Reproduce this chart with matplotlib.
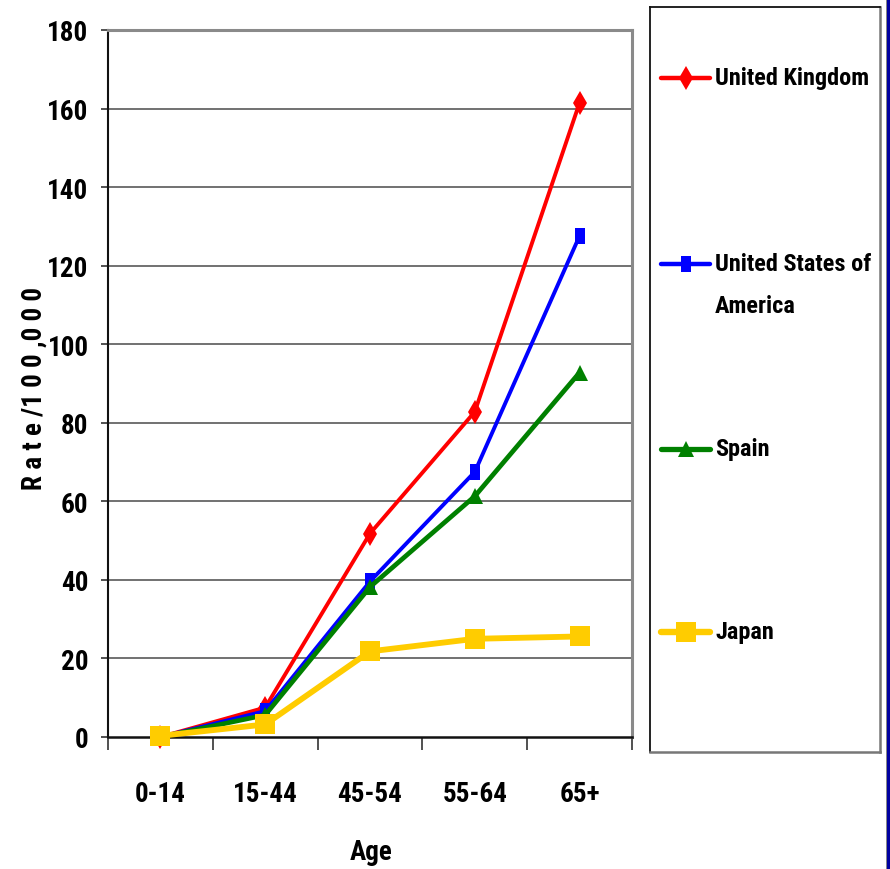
import matplotlib
matplotlib.use("Agg")
import matplotlib.pyplot as plt
from matplotlib import font_manager
from matplotlib.lines import Line2D
from matplotlib.patches import Rectangle
from matplotlib.path import Path

# --- data -------------------------------------------------------------
age_groups = ["0-14", "15-44", "45-54", "55-64", "65+"]
uk = [0.0, 7.5, 51.8, 82.8, 161.5]
usa = [0.0, 6.6, 39.6, 67.5, 127.6]
spain = [0.0, 5.6, 38.2, 61.3, 92.8]
japan = [0.3, 3.2, 21.8, 25.0, 25.6]
series_names = ["United Kingdom", "United States of\nAmerica", "Spain", "Japan"]
y_ticks = [0, 20, 40, 60, 80, 100, 120, 140, 160, 180]

# --- fonts: a narrow bold sans -----------------------------------------
bold_families = {f.name for f in font_manager.fontManager.ttflist if f.weight >= 700}
narrow = "Liberation Sans"
for cand in ["Liberation Sans Narrow", "Arial Narrow", "Roboto Condensed",
             "Open Sans Condensed", "PT Sans Narrow"]:
    if cand in bold_families:
        narrow = cand
        break
plt.rcParams["font.family"] = [narrow, "DejaVu Sans"]
plt.rcParams["font.weight"] = "bold"
FS = 19.5      # axis text
FS_LEG = 17.5  # legend text

W, H = 890, 870
fig = plt.figure(figsize=(W / 100, H / 100), dpi=100)
fig.patch.set_facecolor("white")


def px_box(x0, y0, x1, y1):
    return [x0 / W, 1 - y1 / H, (x1 - x0) / W, (y1 - y0) / H]


ax = fig.add_axes(px_box(108, 31, 632, 738))

# tall rectangular marker for the US series
tall_rect = Path([(-0.55, -1), (0.55, -1), (0.55, 1), (-0.55, 1), (-0.55, -1)],
                 [Path.MOVETO, Path.LINETO, Path.LINETO, Path.LINETO, Path.CLOSEPOLY])

styles = [
    dict(color="#FF0000", lw=2.8, marker="d", ms=12),
    dict(color="#0000FF", lw=2.8, marker=tall_rect, ms=12),
    dict(color="#008000", lw=3.4, marker="^", ms=11),
    dict(color="#FFCC00", lw=4.2, marker="s", ms=15),
]

xpos = [i + 0.5 for i in range(len(age_groups))]
for vals, st in zip([uk, usa, spain, japan], styles):
    ax.plot(xpos, vals, color=st["color"], lw=st["lw"], marker=st["marker"],
            ms=st["ms"], mfc=st["color"], mec=st["color"], mew=0,
            solid_joinstyle="round", clip_on=False, zorder=3)

ax.set_xlim(0, len(age_groups))
ax.set_ylim(0, 180)
ax.set_yticks(y_ticks)
ax.set_yticklabels([str(v) for v in y_ticks], fontsize=FS, fontweight="bold")
ax.set_xticks(range(len(age_groups) + 1))
ax.set_xticklabels([])
ax.set_xticks(xpos, minor=True)
ax.set_xticklabels(age_groups, minor=True, fontsize=FS, fontweight="bold")
ax.tick_params(axis="x", which="minor", length=0, pad=31)
ax.tick_params(axis="x", which="major", length=9, width=1.2, color="#333333")
ax.tick_params(axis="y", length=5, width=1.2, color="#333333", pad=9)

for v in y_ticks[1:-1]:
    ax.axhline(v, color="#4a4a4a", lw=1.1, zorder=1)

ax.spines["left"].set_color("#111111")
ax.spines["left"].set_linewidth(1.5)
ax.spines["bottom"].set_color("#111111")
ax.spines["bottom"].set_linewidth(1.8)
ax.spines["top"].set_color("#8a8a8a")
ax.spines["top"].set_linewidth(2.2)
ax.spines["right"].set_color("#8a8a8a")
ax.spines["right"].set_linewidth(2.2)

fig.text(371 / W, 1 - 853 / H, "Age", ha="center", va="center",
         fontsize=FS, fontweight="bold")
fig.text(34 / W, 1 - 388 / H, "R a t e /1 0 0 ,0 0 0", ha="center", va="center",
         rotation=90, fontsize=FS, fontweight="bold")

# --- legend panel -------------------------------------------------------
lax = fig.add_axes(px_box(650, 8, 880, 753))
lax.set_xlim(650, 880)
lax.set_ylim(753, 8)
lax.set_xticks([])
lax.set_yticks([])
for s in ["left", "top"]:
    lax.spines[s].set_color("#111111")
    lax.spines[s].set_linewidth(1.3)
for s in ["right", "bottom"]:
    lax.spines[s].set_color("#777777")
    lax.spines[s].set_linewidth(1.8)

entry_y = [79, 265, 450, 633]
for name, st, yy in zip(series_names, styles, entry_y):
    lax.add_line(Line2D([661, 710], [yy, yy], color=st["color"], lw=st["lw"] + 0.4,
                        solid_capstyle="round"))
    lax.add_line(Line2D([685.5], [yy], marker=st["marker"], ms=st["ms"],
                        mfc=st["color"], mec=st["color"], mew=0, ls="none"))
    first, *rest = name.split("\n")
    lax.text(715, yy, first, ha="left", va="center", fontsize=FS_LEG, fontweight="bold")
    for k, line in enumerate(rest, start=1):
        lax.text(715, yy + 42 * k, line, ha="left", va="center",
                 fontsize=FS_LEG, fontweight="bold")

# dark edge strip on the right of the slide
fig.patches.append(Rectangle((886 / W, 0), 1 / W, 1, transform=fig.transFigure,
                             facecolor="#888888", edgecolor="none"))
fig.patches.append(Rectangle((887 / W, 0), 3 / W, 1, transform=fig.transFigure,
                             facecolor="#0000A0", edgecolor="none"))

fig.savefig("out.png", dpi=100, facecolor="white")
